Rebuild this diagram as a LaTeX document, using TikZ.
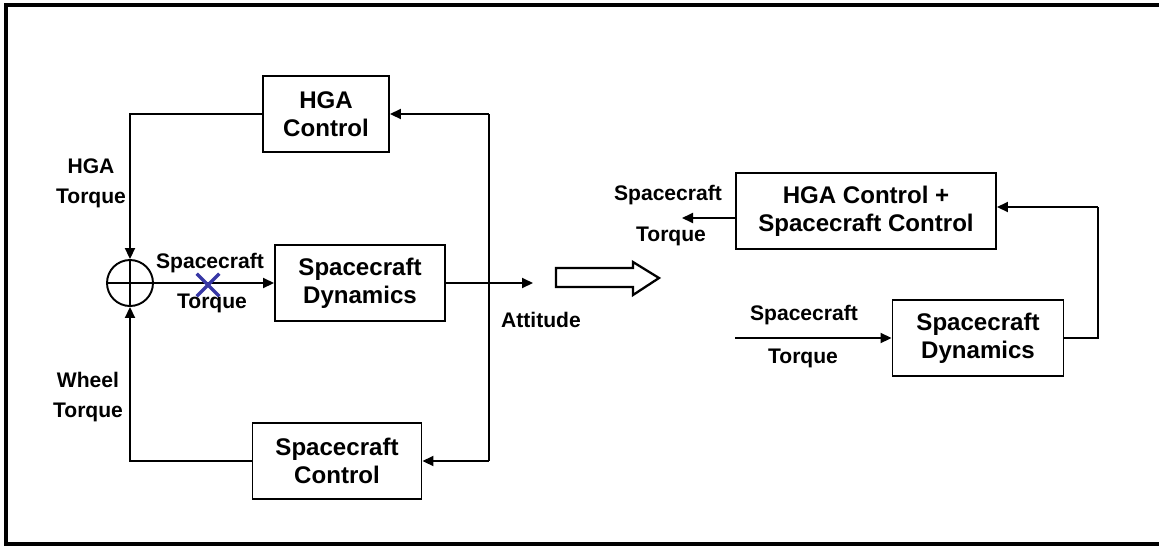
\documentclass[tikz,border=0pt]{standalone}
\usepackage{fontspec}
\setmainfont{Liberation Sans}
\usepackage{xcolor}
\usetikzlibrary{arrows.meta,positioning,shapes.misc}

\definecolor{cutblue}{RGB}{55,55,165}

\begin{document}
\begin{tikzpicture}[
    x=0.2mm, y=-0.2mm,
    node distance=4mm,
    block/.style={draw, line width=1.1pt, align=center, inner sep=0pt, minimum height=15.3mm, font=\fontsize{13.7}{16}\selectfont\bfseries},
    lbl/.style={align=center, inner sep=0pt, font=\fontsize{12}{17}\selectfont\bfseries},
    arrow/.style={-{Triangle[length=2.2mm, width=2mm]}, line width=1.1pt},
    wire/.style={line width=1.1pt}
]
\useasboundingbox (0,0) rectangle (1159,546);
\draw[line width=2.3pt] (1180,5) -- (6,5) -- (6,544) -- (1180,544);

% left loop
\node[block, minimum width=25.2mm] (hga) at (326,114) {HGA\\Control};
\node[block, minimum width=34mm] (dyn) at (360,283) {Spacecraft\\Dynamics};
\node[block, minimum width=33.8mm] (scctl) at (337,461) {Spacecraft\\Control};
\node[draw, circle, line width=1.1pt, minimum size=9.2mm, inner sep=0pt] (sum) at (130,283) {};
\draw[wire] (sum.west) -- (sum.east);
\draw[wire] (sum.north) -- (sum.south);

\coordinate (fbtop) at (489,114);
\coordinate (fbbot) at (489,461);
\coordinate (att) at (533,283);

\draw[arrow] (hga.west) -| (sum.north);
\draw[arrow] (scctl.west) -| (sum.south);
\draw[arrow] (sum.east) -- (dyn.west);
\draw[arrow] (dyn.east) -- (att);
\draw[line width=0.8pt] (fbtop) -- (fbbot);
\draw[arrow] (fbtop) -- (hga.east);
\draw[arrow] (fbbot) -- (scctl.east);

\node[draw=cutblue, cross out, line width=2pt, minimum size=3.8mm, inner sep=0pt] (cut) at (208,285) {};
\node[lbl] (tqa) at (210,263) {Spacecraft};
\node[lbl] (tqb) at (212,303) {Torque};
\node[lbl] (hgatq) at (91,183) {HGA\\Torque};
\node[lbl] (whltq) at (88,397) {Wheel\\Torque};
\node[lbl] (attl) at (541,320) {Attitude};

% hollow arrow between the two views
\draw[line width=1.3pt, fill=white] (556,268) -- (633,268) -- (633,262) -- (659,278)
    -- (633,295) -- (633,287) -- (556,287) -- cycle;

% right loop
\node[block, minimum width=52mm] (ctl) at (866,211) {HGA Control +\\Spacecraft Control};
\node[block, minimum width=34.2mm] (dynr) at (978,338) {Spacecraft\\Dynamics};

\coordinate (sctout) at (682,218);
\coordinate (tqin) at (735,338);
\coordinate (rc) at (1098,207);

\draw[arrow] (ctl.west |- sctout) -- (sctout);
\draw[arrow] (tqin) -- (dynr.west);
\draw[wire] (dynr.east) -| (rc);
\draw[arrow] (rc) -- (ctl.east |- rc);

\node[lbl] (tqc) at (668,195) {Spacecraft};
\node[lbl] (tqd) at (671,236) {Torque};
\node[lbl] (tqe) at (804,315) {Spacecraft};
\node[lbl] (tqf) at (803,358) {Torque};
\end{tikzpicture}
\end{document}
